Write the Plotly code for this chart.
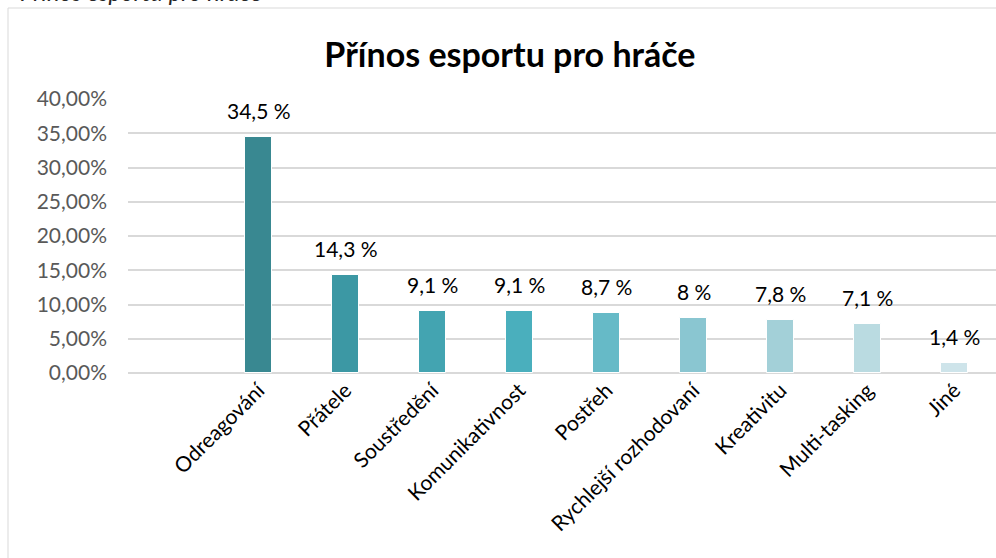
import plotly.graph_objects as go

# data
categories = ["Odreagování", "Přátele", "Soustředění", "Komunikativnost", "Postřeh",
              "Rychlejší rozhodovaní", "Kreativitu", "Multi-tasking", "Jiné"]
values = [34.5, 14.3, 9.1, 9.1, 8.7, 8.0, 7.8, 7.1, 1.4]
bar_colors = ["#398891", "#3C98A4", "#43A4B1", "#4AAFBD", "#66BAC7",
              "#8AC6D1", "#A3D0D8", "#BADBE1", "#CEE4EA"]
y_ticks = [0, 0.05, 0.10, 0.15, 0.20, 0.25, 0.30, 0.35, 0.40]

FONT = "Lato"
W, H = 996, 558
L, R, T, B = 128, 0, 99, 185
pw, ph = W - L - R, H - T - B

def px_x(p):
    return (p - L) / pw

def px_y(p):
    return (H - B - p) / ph

fig = go.Figure()
fig.add_trace(go.Bar(
    x=categories,
    y=[v / 100 for v in values],
    width=0.32,
    marker=dict(color=bar_colors, line=dict(color="white", width=1)),
    hoverinfo="skip",
    showlegend=False,
))

# data labels
for c, v in zip(categories, values):
    fig.add_annotation(
        x=c, y=v / 100, xref="x", yref="y",
        text=f"{v:g}".replace(".", ",") + " %",
        showarrow=False, yanchor="bottom", yshift=12,
        font=dict(family=FONT, size=21, color="#000000"),
    )

# cut-off caption at the very top
fig.add_annotation(
    x=px_x(18), y=px_y(8), xref="paper", yref="paper",
    xanchor="left", yanchor="bottom", showarrow=False,
    text="<i>Přínos esportu pro hráče</i>",
    font=dict(family=FONT, size=24, color="#262626"),
)

# chart border
fig.add_shape(
    type="rect", xref="paper", yref="paper",
    x0=px_x(8), x1=px_x(1010), y0=px_y(600), y1=px_y(8),
    line=dict(color="#D9D9D9", width=1), layer="below",
)

fig.update_layout(
    width=W, height=H,
    margin=dict(l=L, r=R, t=T, b=B),
    paper_bgcolor="white", plot_bgcolor="white",
    separators=", ",
    title=dict(
        text="<b>Přínos esportu pro hráče</b>",
        x=0.512, xanchor="center", y=1 - 55 / H, yanchor="middle",
        font=dict(family=FONT, size=34, color="#000000"),
    ),
    xaxis=dict(
        type="category",
        range=[-1.5, -1.5 + pw / 87],
        tickangle=-45,
        tickfont=dict(family=FONT, size=21, color="#000000"),
        showgrid=False, showline=False, ticks="",
        fixedrange=True, automargin=False,
    ),
    yaxis=dict(
        range=[0, 0.40],
        tickvals=y_ticks,
        tickformat=".2%",
        tickfont=dict(family=FONT, size=21, color="#595959"),
        showgrid=True, gridcolor="#D9D9D9", gridwidth=1.5,
        zeroline=True, zerolinecolor="#D9D9D9", zerolinewidth=2,
        ticklabelstandoff=20,
        showline=False, ticks="",
        fixedrange=True, automargin=False,
    ),
    bargap=0,
)

fig.write_html("out.html", config={"displayModeBar": False},
               post_script="document.body.style.margin='0px';")
